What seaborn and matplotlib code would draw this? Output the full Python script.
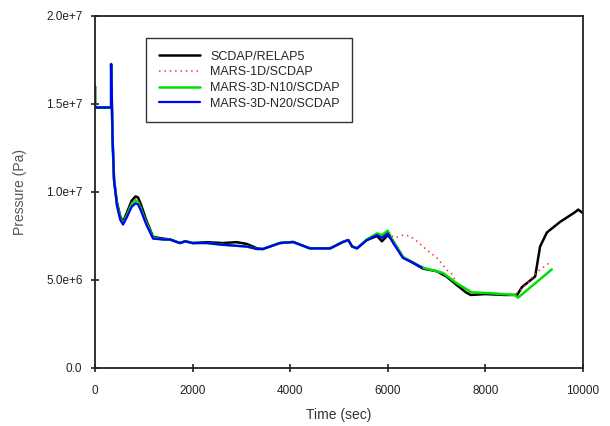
import matplotlib
matplotlib.use("Agg")
import matplotlib.pyplot as plt
import seaborn as sns
import pandas as pd

# pressure values in units of 1e7 Pa
scdap_t = [0, 0, 330, 330, 360, 390, 450, 520, 574, 650, 750, 830, 880, 940, 1050, 1190,
           1400, 1540, 1740, 1850, 2000, 2290, 2620, 2900, 3110, 3320, 3440, 3790, 4060,
           4400, 4820, 5080, 5190, 5270, 5370, 5570, 5780, 5880, 6000, 6110, 6310, 6500,
           6720, 7000, 7200, 7420, 7600, 7700, 8000, 8400, 8650, 8750, 9020, 9120, 9260,
           9530, 9840, 9900, 10000]
scdap_p = [1.6, 1.48, 1.48, 1.727, 1.3, 1.07, 0.94, 0.86, 0.83, 0.88, 0.95, 0.975, 0.97,
           0.93, 0.84, 0.745, 0.735, 0.73, 0.71, 0.72, 0.71, 0.715, 0.71, 0.715, 0.705,
           0.68, 0.676, 0.71, 0.716, 0.68, 0.68, 0.716, 0.727, 0.69, 0.68, 0.727, 0.75,
           0.72, 0.755, 0.72, 0.63, 0.60, 0.565, 0.55, 0.52, 0.47, 0.43, 0.415, 0.42,
           0.415, 0.415, 0.46, 0.52, 0.69, 0.77, 0.83, 0.886, 0.90, 0.88]

mars1d_t = [0, 0, 330, 330, 360, 390, 450, 520, 574, 650, 750, 830, 880, 940, 1050, 1190,
            1400, 1540, 1740, 1850, 2000, 2290, 2620, 3110, 3320, 3440, 3790, 4060, 4400,
            4820, 5080, 5190, 5270, 5370, 5570, 5780, 5880, 6000, 6150, 6310, 6450, 6600,
            6800, 7010, 7210, 7300, 7420, 7700, 8100, 8600, 8750, 9060, 9320]
mars1d_p = [1.6, 1.48, 1.48, 1.727, 1.3, 1.07, 0.935, 0.855, 0.825, 0.87, 0.94, 0.96,
            0.955, 0.91, 0.83, 0.74, 0.73, 0.73, 0.71, 0.72, 0.71, 0.71, 0.70, 0.69, 0.676,
            0.676, 0.71, 0.716, 0.68, 0.68, 0.716, 0.727, 0.69, 0.68, 0.727, 0.755, 0.74,
            0.765, 0.74, 0.755, 0.75, 0.72, 0.67, 0.625, 0.557, 0.54, 0.48, 0.425, 0.425,
            0.415, 0.45, 0.545, 0.60]

n10_t = [0, 0, 330, 330, 360, 390, 450, 520, 574, 650, 750, 830, 880, 940, 1050, 1190,
         1400, 1540, 1740, 1850, 2000, 2290, 2620, 3110, 3320, 3440, 3790, 4060, 4400,
         4820, 5080, 5190, 5270, 5370, 5570, 5780, 5880, 6000, 6110, 6310, 6720, 7130,
         7420, 7720, 8100, 8600, 8670, 9360]
n10_p = [1.6, 1.48, 1.48, 1.727, 1.3, 1.07, 0.93, 0.85, 0.82, 0.865, 0.93, 0.95, 0.945,
         0.905, 0.825, 0.74, 0.73, 0.73, 0.71, 0.72, 0.71, 0.71, 0.70, 0.69, 0.676, 0.676,
         0.71, 0.716, 0.68, 0.68, 0.716, 0.727, 0.69, 0.68, 0.73, 0.765, 0.755, 0.78,
         0.72, 0.63, 0.57, 0.54, 0.48, 0.43, 0.425, 0.415, 0.40, 0.56]

n20_t = [0, 0, 330, 330, 360, 390, 450, 520, 574, 650, 750, 830, 880, 940, 1050, 1190,
         1400, 1540, 1740, 1850, 2000, 2290, 2620, 3110, 3320, 3440, 3790, 4060, 4400,
         4820, 5080, 5190, 5270, 5370, 5570, 5780, 5880, 6000, 6110, 6310, 6500, 6700]
n20_p = [1.6, 1.48, 1.48, 1.727, 1.3, 1.07, 0.92, 0.84, 0.815, 0.855, 0.915, 0.935, 0.93,
         0.895, 0.815, 0.735, 0.73, 0.73, 0.71, 0.72, 0.71, 0.71, 0.70, 0.69, 0.676, 0.676,
         0.71, 0.716, 0.68, 0.68, 0.716, 0.727, 0.69, 0.68, 0.727, 0.755, 0.74, 0.765, 0.71,
         0.625, 0.60, 0.57]

x_ticks = [0, 2000, 4000, 6000, 8000, 10000]
y_ticks = [0, 5e6, 1e7, 1.5e7, 2e7]
y_tick_labels = ["0.0", "5.0e+6", "1.0e+7", "1.5e+7", "2.0e+7"]

sns.set_style("ticks")
plt.rcParams["font.family"] = ["Liberation Sans", "DejaVu Sans"]

fig = plt.figure(figsize=(6.1, 4.26), dpi=100)
ax = fig.add_axes([95 / 610, 1 - 368 / 426, 488 / 610, 352 / 426])

series = [
    ("SCDAP/RELAP5", scdap_t, scdap_p, "black", "-", 1.8),
    ("MARS-1D/SCDAP", mars1d_t, mars1d_p, "#ff3030", (0, (1, 2.5)), 1.1),
    ("MARS-3D-N10/SCDAP", n10_t, n10_p, "#00e000", "-", 1.8),
    ("MARS-3D-N20/SCDAP", n20_t, n20_p, "#0000ff", "-", 1.6),
]
for name, t, p, c, ls, lw in series:
    df = pd.DataFrame({"Time": t, "Pressure": [v * 1e7 for v in p]})
    sns.lineplot(data=df, x="Time", y="Pressure", sort=False, estimator=None,
                 color=c, linestyle=ls, linewidth=lw, label=name, ax=ax)

ax.set_xlim(0, 10000)
ax.set_ylim(0, 2e7)
ax.set_xticks(x_ticks)
ax.set_xticklabels([str(x) for x in x_ticks])
ax.set_yticks(y_ticks)
ax.set_yticklabels(y_tick_labels)
ax.tick_params(direction="inout", length=6, width=1.2, labelsize=8.5, colors="#222222")
ax.tick_params(axis="x", pad=9)
ax.tick_params(axis="y", pad=6)
for s in ax.spines.values():
    s.set_linewidth(1.3)
    s.set_color("#222222")
ax.set_xlabel("Time (sec)", fontsize=10, color="#333333", labelpad=8)
ax.set_ylabel("Pressure (Pa)", fontsize=10, color="#555555", labelpad=14)

leg = ax.legend(loc="upper left", bbox_to_anchor=(0.105, 0.9375), fontsize=9,
                frameon=True, fancybox=False, edgecolor="black", handlelength=3.3,
                borderpad=1.0, labelspacing=0.3, borderaxespad=0)
leg.get_frame().set_linewidth(1.0)

plt.savefig("out.png", dpi=100)
